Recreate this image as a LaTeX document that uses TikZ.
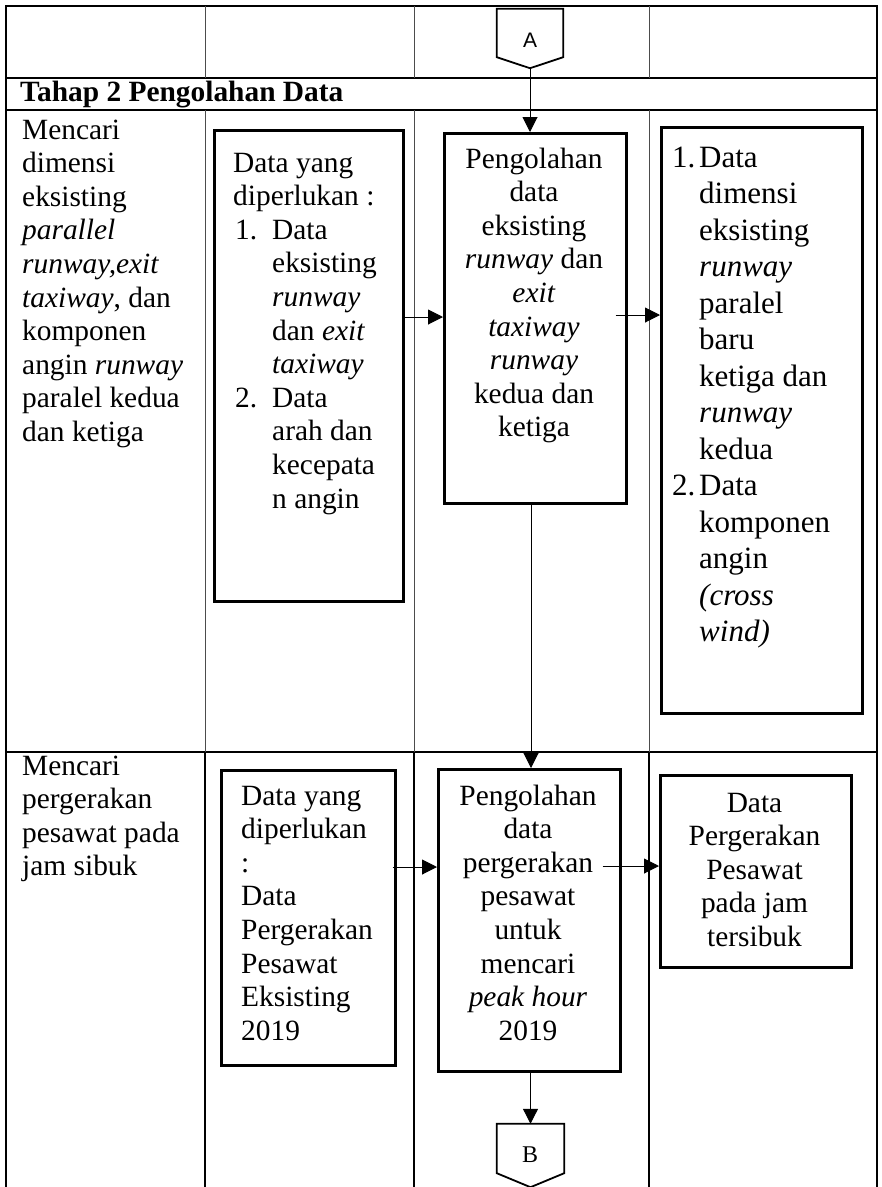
\documentclass[tikz,border=0pt]{standalone}
\usepackage{fontspec}
\setmainfont{Liberation Serif}
\newfontfamily\labelsans{Liberation Sans}
\usetikzlibrary{arrows.meta}

% stacked lines: the node's baseline is the baseline of the first line
\newcommand{\leftlines}[1]{\vtop{\halign{##\hfil\cr#1\crcr}}}
\newcommand{\midlines}[1]{\vtop{\halign{\hfil##\hfil\cr#1\crcr}}}
\newcommand{\itemno}[2]{\hbox to #1{#2\hfil}}

\begin{document}
\begin{tikzpicture}[x=1pt,y=-1pt,
  rowline/.style={line width=1.8pt},
  colthin/.style={line width=0.9pt, black!70},
  colthick/.style={line width=1.6pt},
  procbox/.style={draw, line width=2.6pt, inner sep=0pt, anchor=north west},
  offpage/.style={draw, line width=1.8pt, line join=miter},
  flow/.style={line width=1pt, -{Triangle[length=15pt,width=15pt]}},
  body/.style={inner sep=0pt, font=\fontsize{29.4pt}{33.6pt}\selectfont},
  bigbody/.style={inner sep=0pt, font=\fontsize{31pt}{36.5pt}\selectfont},
  ]
\fill[white] (0,0) rectangle (882,1187);
\useasboundingbox (0,0) rectangle (882,1187);

% table frame
\draw[rowline] (5,6) -- (877,6);
\draw[rowline] (5,78) -- (877,78);
\draw[rowline] (5,110) -- (877,110);
\draw[rowline] (5,752) -- (877,752);
\draw[rowline] (6,5) -- (6,1187);
\draw[rowline] (877,5) -- (877,1187);
\foreach \cx in {205,414,649} {
  \draw[colthin] (\cx,6) -- (\cx,78);
  \draw[colthin] (\cx,110) -- (\cx,752);
  \draw[colthick] (\cx,752) -- (\cx,1187);
}

% off-page connector A
\node[inner sep=0pt, minimum width=66pt, minimum height=48pt] (offA) at (530,33) {};
\draw[offpage] (offA.north west) -- (offA.north east) -- (offA.south east)
  -- ([yshift=-11pt]offA.south) -- (offA.south west) -- cycle;
\coordinate (tipA) at ([yshift=-11pt]offA.south);
\node[inner sep=0pt, font=\labelsans\fontsize{21pt}{21pt}\selectfont] (lblA) at (530,40) {A};

% header
\node[body, anchor=base west] (hdr) at (20,101) {\bfseries Tahap 2 Pengolahan Data};

% row 1
\node[body, anchor=base west] (t11) at (22,139) {\leftlines{Mencari\cr dimensi\cr eksisting\cr
  \textit{parallel}\cr \textit{runway,exit}\cr \textit{taxiway}, dan\cr komponen\cr
  angin \textit{runway}\cr paralel kedua\cr dan ketiga}};

\node[procbox, minimum width=189pt, minimum height=471pt] (b11) at (213,129) {};
\node[body, anchor=base west] (t12) at (233,172) {\leftlines{Data yang\cr diperlukan :\cr
  \itemno{39pt}{\hskip2pt 1.}Data\cr \hskip39pt eksisting\cr \hskip39pt\textit{runway}\cr
  \hskip39pt dan \textit{exit}\cr \hskip39pt\textit{taxiway}\cr
  \itemno{39pt}{\hskip2pt 2.}Data\cr \hskip39pt arah dan\cr \hskip39pt kecepata\cr
  \hskip39pt n angin}};

\node[procbox, minimum width=182pt, minimum height=370pt] (b12) at (443,132) {};
\node[body, anchor=base] (t13) at (534,168) {\midlines{Pengolahan\cr data\cr eksisting\cr
  \textit{runway} dan\cr \textit{exit}\cr \textit{taxiway}\cr \textit{runway}\cr
  kedua dan\cr ketiga}};

\node[procbox, minimum width=201pt, minimum height=586pt] (b13) at (660,126) {};
\node[bigbody, anchor=base west] (t14) at (672,167) {\leftlines{\itemno{27pt}{1.}Data\cr
  \hskip27pt dimensi\cr \hskip27pt eksisting\cr \hskip27pt\textit{runway}\cr
  \hskip27pt paralel\cr \hskip27pt baru\cr \hskip27pt ketiga dan\cr
  \hskip27pt\textit{runway}\cr \hskip27pt kedua\cr \itemno{27pt}{2.}Data\cr
  \hskip27pt komponen\cr \hskip27pt angin\cr \hskip27pt\textit{(cross}\cr
  \hskip27pt\textit{wind)}}};

% row 2
\node[body, anchor=base west] (t21) at (22,775) {\leftlines{Mencari\cr pergerakan\cr
  pesawat pada\cr jam sibuk}};

\node[procbox, minimum width=174pt, minimum height=295pt] (b21) at (220,769) {};
\node[body, anchor=base west] (t22) at (241,805) {\leftlines{Data yang\cr diperlukan\cr :\cr
  Data\cr Pergerakan\cr Pesawat\cr Eksisting\cr 2019}};

\node[procbox, minimum width=182pt, minimum height=302pt] (b22) at (437,768) {};
\node[body, anchor=base] (t23) at (528,805) {\midlines{Pengolahan\cr data\cr pergerakan\cr
  pesawat\cr untuk\cr mencari\cr \textit{peak hour}\cr 2019}};

\node[procbox, minimum width=191pt, minimum height=192pt] (b23) at (659,774) {};
\node[body, anchor=base] (t24) at (754.5,812) {\midlines{Data\cr Pergerakan\cr Pesawat\cr
  pada jam\cr tersibuk}};

% off-page connector B
\node[inner sep=0pt, minimum width=67pt, minimum height=49pt] (offB) at (530.5,1148.5) {};
\draw[offpage] (offB.north west) -- (offB.north east) -- (offB.south east)
  -- ([yshift=-14pt]offB.south) -- (offB.south west) -- cycle;
\node[inner sep=0pt, font=\fontsize{24pt}{24pt}\selectfont] (lblB) at (530,1155) {B};

% connectors
\coordinate (vx) at (531,0);
\draw[flow] (tipA) -- (tipA |- b12.north);
\draw[flow] (b11.east |- 0,317) -- (b12.west |- 0,317);
\draw[flow] ([xshift=-12pt]b12.east |- 0,315) -- (b13.west |- 0,315);
\draw[flow] (vx |- b12.south) -- (vx |- b22.north);
\draw[flow] ([xshift=-4pt]b21.east |- 0,867) -- (b22.west |- 0,867);
\draw[flow] ([xshift=-19pt]b22.east |- 0,866) -- (b23.west |- 0,866);
\draw[flow] (offB.north |- b22.south) -- (offB.north);
\end{tikzpicture}
\end{document}
